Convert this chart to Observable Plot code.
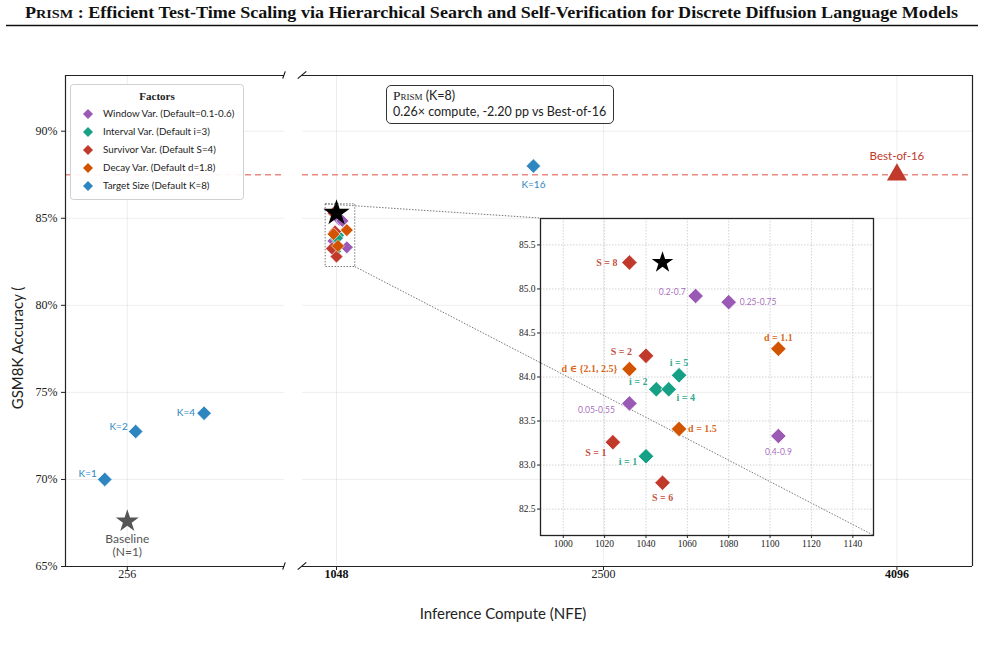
<!DOCTYPE html>
<html><head><meta charset="utf-8">
<script src="https://cdn.jsdelivr.net/npm/d3@7"></script>
<script src="https://cdn.jsdelivr.net/npm/@observablehq/plot@0.6"></script>
<style>
html,body{margin:0;padding:0;background:#fff;}
#root{position:relative;width:985px;height:647px;overflow:hidden;background:#fff;}
.abs{position:absolute;}
.abs svg{overflow:visible;}
</style></head>
<body><div id="root"></div>
<script>
// ---------------- data ----------------
const yTicks = [65, 70, 75, 80, 85, 90];
const leftTicks = [256];
const rightTicks = [1048, 2500, 4096];
const boldTicks = [1048, 4096];
const insetXTicks = [1000, 1020, 1040, 1060, 1080, 1100, 1120, 1140];
const insetYTicks = [82.5, 83.0, 83.5, 84.0, 84.5, 85.0, 85.5];

const yDomain = [65, 93.2];
const leftDomain = [50, 780];
const rightDomain = [863, 4507];
const insetXDomain = [989, 1150];
const insetYDomain = [82.2, 85.8];

const factorKeys = ["window", "interval", "survivor", "decay", "target"];
const factorNames = ["Window Var. (Default=0.1-0.6)", "Interval Var. (Default i=3)", "Survivor Var. (Default S=4)", "Decay Var. (Default d=1.8)", "Target Size (Default K=8)"];
const factorColors = ["#9b59b6", "#16a085", "#c0392b", "#d35400", "#2e86c1"];

const varFactor = ["window","window","window","window","interval","interval","interval","interval","survivor","survivor","survivor","survivor","decay","decay","decay"];
const varLabel = ["0.2-0.7","0.25-0.75","0.05-0.55","0.4-0.9","i = 5","i = 2","i = 4","i = 1","S = 8","S = 2","S = 1","S = 6","d = 1.1","d ∈ {2.1, 2.5}","d = 1.5"];
const varNFE = [1064, 1080, 1032, 1104, 1056, 1045, 1051, 1040, 1032, 1040, 1024, 1048, 1104, 1032, 1056];
const varAcc = [84.92, 84.85, 83.70, 83.33, 84.02, 83.86, 83.86, 83.10, 85.30, 84.24, 83.26, 82.80, 84.32, 84.09, 83.41];

const targetLabel = ["K=1", "K=2", "K=4", "K=16"];
const targetNFE = [181, 284, 512, 2119];
const targetAcc = [70.0, 72.75, 73.8, 88.0];

const baselineLabel = "Baseline\n(N=1)", baselineNFE = 256, baselineAcc = 67.6;
const prismK = 8, prismNFE = 1048, prismAcc = 85.3;
const bestLabel = "Best-of-16", bestNFE = 4096, bestAcc = 87.5;

// ---------------- styles / placement ----------------
const serif = "'Liberation Serif', 'DejaVu Serif', serif";
const sans = "Lato, 'DejaVu Sans', sans-serif";
const colorOf = f => factorColors[factorKeys.indexOf(f)];

const insetLabelPlace = {
  "0.2-0.7": {a: "end", dx: -10, dy: -4},
  "0.25-0.75": {a: "start", dx: 11, dy: 0},
  "0.05-0.55": {a: "middle", dx: -33, dy: 7},
  "0.4-0.9": {a: "middle", dx: 0, dy: 16},
  "i = 5": {a: "middle", dx: 0, dy: -12},
  "i = 2": {a: "middle", dx: -18, dy: -8},
  "i = 4": {a: "middle", dx: 17, dy: 8},
  "i = 1": {a: "middle", dx: -18, dy: 6},
  "S = 8": {a: "end", dx: -12, dy: 0},
  "S = 2": {a: "end", dx: -14, dy: -4},
  "S = 1": {a: "middle", dx: -17, dy: 11},
  "S = 6": {a: "middle", dx: 0, dy: 15},
  "d = 1.1": {a: "middle", dx: 0, dy: -11},
  "d ∈ {2.1, 2.5}": {a: "end", dx: -12, dy: 0},
  "d = 1.5": {a: "start", dx: 9, dy: 0}
};
const targetPlace = {
  "K=1": {a: "end", dx: -8, dy: -6},
  "K=2": {a: "end", dx: -8, dy: -5},
  "K=4": {a: "end", dx: -9, dy: 0},
  "K=16": {a: "middle", dx: 0, dy: 19}
};

// ---------------- tables ----------------
const variations = varLabel.map((label, i) => ({label, factor: varFactor[i], nfe: varNFE[i], acc: varAcc[i]}));
const targets = targetLabel.map((label, i) => ({label, nfe: targetNFE[i], acc: targetAcc[i]}));
const leftTargets = targets.filter(d => d.nfe <= leftDomain[1]);
const rightTargets = targets.filter(d => d.nfe > leftDomain[1]);
const baseline = [{label: baselineLabel, nfe: baselineNFE, acc: baselineAcc}];
const prism = [{nfe: prismNFE, acc: prismAcc}];
const best = [{label: bestLabel, nfe: bestNFE, acc: bestAcc}];

const root = document.getElementById("root");
function put(node, left, top) {
  const d = document.createElement("div");
  d.className = "abs"; d.style.left = left + "px"; d.style.top = top + "px";
  d.appendChild(node); root.appendChild(d); return d;
}

const gridMarksY = Plot.ruleY(yTicks, {stroke: "#000", strokeOpacity: 0.07});
const dashed = () => Plot.ruleY([bestAcc], {stroke: "#e8766b", strokeOpacity: 0.85, strokeDasharray: "6,4", strokeWidth: 1.4});
const targetMarks = data => [
  Plot.dot(data, {x: "nfe", y: "acc", symbol: "diamond2", r: 6.5, fill: colorOf("target"), stroke: "white", strokeWidth: 0.6}),
  ...data.map(d => Plot.text([d], {x: "nfe", y: "acc", text: "label", textAnchor: targetPlace[d.label].a,
    dx: targetPlace[d.label].dx, dy: targetPlace[d.label].dy, fill: colorOf("target"), fontFamily: sans, fontSize: 10}))
];
const tickLabels = (ticks) => [
  Plot.text(ticks.filter(t => !boldTicks.includes(t)), {x: d => d, frameAnchor: "bottom", dy: 11, text: d => String(d), fontFamily: serif, fontSize: 12, fill: "#222"}),
  Plot.text(ticks.filter(t => boldTicks.includes(t)), {x: d => d, frameAnchor: "bottom", dy: 11, text: d => String(d), fontFamily: serif, fontSize: 12, fontWeight: "bold", fill: "#111"})
];

// ---------------- left panel ----------------
const LEFT = {left: 0, top: 30};
const leftPlot = Plot.plot({
  width: 290, height: 570, marginLeft: 65, marginRight: 6, marginTop: 45, marginBottom: 34,
  style: {fontFamily: serif, fontSize: "12px", background: "transparent", color: "#222"},
  x: {domain: leftDomain, ticks: leftTicks, tickFormat: () => "", tickSize: 4, label: null},
  y: {domain: yDomain, ticks: yTicks, tickFormat: d => d + "%", tickSize: 4, tickPadding: 4, label: null},
  marks: [
    gridMarksY,
    Plot.ruleX(leftTicks, {stroke: "#000", strokeOpacity: 0.07}),
    dashed(),
    ...targetMarks(leftTargets),
    Plot.dot(baseline, {x: "nfe", y: "acc", symbol: "star", r: 7.2, fill: "#555"}),
    Plot.text(baseline, {x: "nfe", y: "acc", text: "label", dy: 12, lineAnchor: "top", lineHeight: 1.1, fill: "#555", fontFamily: sans, fontSize: 12}),
    ...tickLabels(leftTicks),
    Plot.ruleX([leftDomain[0]], {stroke: "#222", strokeWidth: 1.2}),
    Plot.ruleY([yDomain[0], yDomain[1]], {stroke: "#222", strokeWidth: 1.2})
  ]
});
put(leftPlot, LEFT.left, LEFT.top);

// ---------------- right panel ----------------
const RIGHT = {left: 294, top: 30};
const rightPlot = Plot.plot({
  width: 691, height: 570, marginLeft: 8, marginRight: 13, marginTop: 45, marginBottom: 34,
  style: {fontFamily: serif, fontSize: "12px", background: "transparent", color: "#222"},
  x: {domain: rightDomain, ticks: rightTicks, tickFormat: () => "", tickSize: 4, label: null},
  y: {domain: yDomain, axis: null},
  marks: [
    gridMarksY,
    Plot.ruleX(rightTicks, {stroke: "#000", strokeOpacity: 0.07}),
    dashed(),
    Plot.rect([{x1: insetXDomain[0], x2: insetXDomain[1], y1: insetYDomain[0], y2: insetYDomain[1]}],
      {x1: "x1", x2: "x2", y1: "y1", y2: "y2", fill: "none", stroke: "#555", strokeWidth: 0.8, strokeDasharray: "1.5,1.5"}),
    ...factorKeys.slice(0, 4).map(f => Plot.dot(variations.filter(d => d.factor === f),
      {x: "nfe", y: "acc", symbol: "diamond2", r: 5.8, fill: colorOf(f), stroke: "white", strokeWidth: 0.6})),
    Plot.dot(prism, {x: "nfe", y: "acc", symbol: "star", r: 8.3, fill: "black"}),
    ...targetMarks(rightTargets),
    Plot.dot(best, {x: "nfe", y: "acc", symbol: "triangle", r: 7.4, fill: "#c0392b"}),
    Plot.text(best, {x: "nfe", y: "acc", text: "label", dy: -18, fill: "#c0392b", fontFamily: sans, fontSize: 11.5}),
    ...tickLabels(rightTicks),
    Plot.ruleX([rightDomain[1]], {stroke: "#222", strokeWidth: 1.2}),
    Plot.ruleY([yDomain[0], yDomain[1]], {stroke: "#222", strokeWidth: 1.2})
  ]
});
put(rightPlot, RIGHT.left, RIGHT.top);

// ---------------- inset ----------------
const INSET = {left: 510, top: 210};
const insetPlot = Plot.plot({
  width: 370, height: 345, marginLeft: 30, marginRight: 7, marginTop: 8, marginBottom: 20,
  style: {fontFamily: serif, fontSize: "9.5px", background: "transparent", color: "#222"},
  x: {domain: insetXDomain, ticks: insetXTicks, tickFormat: d => String(d), tickSize: 3, tickPadding: 2, label: null},
  y: {domain: insetYDomain, ticks: insetYTicks, tickFormat: d => d.toFixed(1), tickSize: 3, tickPadding: 2, label: null},
  marks: [
    Plot.ruleX(insetXTicks, {stroke: "#bbb", strokeOpacity: 0.8, strokeDasharray: "1.5,1.5", strokeWidth: 0.8}),
    Plot.ruleY(insetYTicks, {stroke: "#bbb", strokeOpacity: 0.8, strokeDasharray: "1.5,1.5", strokeWidth: 0.8}),
    ...factorKeys.slice(0, 4).map(f => Plot.dot(variations.filter(d => d.factor === f),
      {x: "nfe", y: "acc", symbol: "diamond2", r: 7, fill: colorOf(f), stroke: "white", strokeWidth: 0.8})),
    Plot.dot(prism, {x: "nfe", y: "acc", symbol: "star", r: 6.8, fill: "black"}),
    ...variations.map(d => {
      const p = insetLabelPlace[d.label];
      const isSans = d.factor === "window";
      return Plot.text([d], {x: "nfe", y: "acc", text: "label", textAnchor: p.a, dx: p.dx, dy: p.dy,
        fill: colorOf(d.factor), fillOpacity: 0.9, fontFamily: isSans ? sans : serif,
        fontSize: isSans ? 8.5 : 10, fontWeight: isSans ? "normal" : "bold"});
    }),
    Plot.frame({stroke: "#222", strokeWidth: 1.3})
  ]
});

// connectors (below inset)
const conn = d3.create("svg").attr("width", 985).attr("height", 647);
{
  const rx = rightPlot.scale("x").apply, ry = rightPlot.scale("y").apply;
  const ix = insetPlot.scale("x").apply, iy = insetPlot.scale("y").apply;
  const pairs = [
    [[RIGHT.left + rx(insetXDomain[0]), RIGHT.top + ry(insetYDomain[1])], [INSET.left + ix(insetXDomain[0]), INSET.top + iy(insetYDomain[1])]],
    [[RIGHT.left + rx(insetXDomain[1]), RIGHT.top + ry(insetYDomain[0])], [INSET.left + ix(insetXDomain[1]), INSET.top + iy(insetYDomain[0])]]
  ];
  for (const [a, b] of pairs) conn.append("line").attr("x1", a[0]).attr("y1", a[1]).attr("x2", b[0]).attr("y2", b[1])
    .attr("stroke", "#555").attr("stroke-width", 0.8).attr("stroke-dasharray", "1.5,1.5");
}
put(conn.node(), 0, 0);
put(insetPlot, INSET.left, INSET.top);

// ---------------- overlay: title, labels, breaks ----------------
const ov = d3.create("svg").attr("width", 985).attr("height", 647);
const title = ov.append("text").attr("x", 25).attr("y", 18).attr("font-family", serif).attr("font-weight", "bold")
  .attr("font-size", 16.5).attr("fill", "#111").attr("textLength", 933).attr("lengthAdjust", "spacingAndGlyphs");
title.append("tspan").text("P");
title.append("tspan").attr("font-size", 13).text("RISM");
title.append("tspan").text(" : Efficient Test-Time Scaling via Hierarchical Search and Self-Verification for Discrete Diffusion Language Models");
ov.append("line").attr("x1", 6).attr("x2", 978).attr("y1", 25.5).attr("y2", 25.5).attr("stroke", "#111").attr("stroke-width", 1.6);

ov.append("text").attr("transform", "translate(23,348) rotate(-90)").attr("text-anchor", "middle")
  .attr("font-family", sans).attr("font-size", 15).attr("fill", "#222").text("GSM8K Accuracy (");
ov.append("text").attr("x", 503).attr("y", 619).attr("text-anchor", "middle")
  .attr("font-family", sans).attr("font-size", 15).attr("fill", "#222").text("Inference Compute (NFE)");

{
  const lEdge = LEFT.left + 290 - 6, rEdge = RIGHT.left + 8;
  const ys = leftPlot.scale("y").apply;
  for (const yv of yDomain) {
    const y = LEFT.top + ys(yv);
    ov.append("line").attr("x1", lEdge - 1.3).attr("y1", y + 3.6).attr("x2", lEdge + 1.3).attr("y2", y - 3.6).attr("stroke", "#111").attr("stroke-width", 1.1);
    ov.append("line").attr("x1", rEdge - 4.3).attr("y1", y + 3.6).attr("x2", rEdge + 4.3).attr("y2", y - 3.6).attr("stroke", "#111").attr("stroke-width", 1.1);
  }
}
put(ov.node(), 0, 0);

// ---------------- legend ----------------
const leg = d3.create("svg").attr("width", 175).attr("height", 117);
leg.append("rect").attr("x", 0.5).attr("y", 0.5).attr("width", 173).attr("height", 115).attr("rx", 3)
  .attr("fill", "white").attr("fill-opacity", 0.92).attr("stroke", "#d0d0d0");
leg.append("text").attr("x", 87).attr("y", 16).attr("text-anchor", "middle").attr("font-family", serif)
  .attr("font-weight", "bold").attr("font-size", 11).attr("fill", "#222").text("Factors");
factorNames.forEach((n, i) => {
  const g = leg.append("g").attr("transform", `translate(18,${30 + 18 * i})`);
  g.append("path").attr("d", d3.symbol(d3.symbolDiamond2, 64)()).attr("fill", factorColors[i]);
  g.append("text").attr("x", 15).attr("dy", "0.35em").attr("font-family", sans).attr("font-size", 9.8).attr("fill", "#222").text(n);
});
put(leg.node(), 70, 84);

// ---------------- annotation box ----------------
const box = document.createElement("div");
box.style.cssText = `box-sizing:border-box;width:228px;height:39px;border:1px solid #333;border-radius:5px;background:#fff;padding:2px 6px;font-family:${sans};font-size:12.5px;line-height:16px;color:#222;white-space:nowrap;`;
const ratio = (prismNFE / bestNFE).toFixed(2);
const diff = (prismAcc - bestAcc).toFixed(2);
box.innerHTML = `<span style="font-family:${serif};font-variant:small-caps;font-size:13.5px">Prism</span> (K=${prismK})<br>${ratio}× compute, ${diff} pp vs ${bestLabel}`;
put(box, 386, 85);
</script>
</body></html>
